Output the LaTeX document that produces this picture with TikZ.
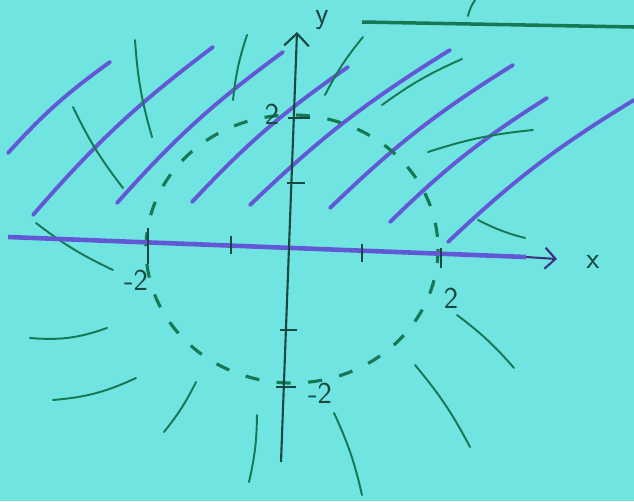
\documentclass[tikz,border=0pt]{standalone}
\usepackage{tikz}
\usetikzlibrary{arrows.meta}

\definecolor{paper}{RGB}{112,228,224}
\definecolor{hatch}{RGB}{98,88,214}
\definecolor{pen}{RGB}{22,120,84}
\definecolor{ink}{RGB}{24,72,64}

\begin{document}
\begin{tikzpicture}[x=0.02cm, y=-0.02cm, font=\LARGE\sffamily,
    hatchline/.style={hatch, line width=2.2pt, line cap=round},
    strokeline/.style={pen, line width=1.1pt, line cap=round},
    tickmark/.style={ink, line width=1pt},
    lbl/.style={ink}]
    % ================= Parameters =================
    \def\W{634}        % Canvas width (pixels)
    \def\H{501}        % Canvas height (pixels)
    \def\Rx{146}       % Circle half-width
    \def\Ry{134}       % Circle half-height

    % Canvas
    \path[use as bounding box] (0,0) rectangle (\W,\H);
    \fill[paper] (0,0) rectangle (\W,\H);

    % Key coordinates
    \coordinate (O) at (292,249);
    \coordinate (X_start) at (8,237);
    \coordinate (X_mid) at (526,257);
    \coordinate (X_end) at (557,259);
    \coordinate (Y_start) at (281,462);
    \coordinate (Y_end) at (297,32);

    % ================= Hatching (upper half) =================
    \foreach \xa/\ya/\xb/\yb in {8/153/110/62, 33/215/213/47, 117/203/283/52,
                       192/202/348/67, 250/205/450/50, 330/208/513/65,
                       390/222/547/98, 448/242/634/100}
        \draw[hatchline] (\xa,\ya) to[bend left=6] (\xb,\yb);

    % ================= Outward strokes =================
    \foreach \xa/\ya/\xb/\yb in {135/40/152/137, 73/107/123/188, 247/35/233/100,
                       363/37/325/95, 462/59/382/105, 533/130/428/152,
                       478/220/525/238, 36/223/113/270, 164/432/196/382,
                       249/482/257/415, 362/495/334/413, 470/447/415/365,
                       514/368/457/315}
        \draw[strokeline] (\xa,\ya) to[bend right=6] (\xb,\yb);
    \draw[strokeline] (30,338) to[bend right=12] (107,328);
    \draw[strokeline] (53,400) to[bend right=10] (136,378);

    % Line at the top
    \draw[pen, line width=2pt] (362,22) -- (634,27);
    \draw[strokeline] (475,0) to[bend right=10] (468,16);

    % ================= Dashed circle =================
    \draw[pen, line width=1.8pt, dash pattern=on 8pt off 10pt] (O) ellipse ({\Rx} and {\Ry});

    % ================= Axes =================
    \draw[hatch, line width=2.6pt] (X_start) -- (X_mid);
    \draw[-{Straight Barb[length=6pt, width=12pt]}, hatch!60!black, line width=1.2pt] (X_mid) -- (X_end);
    \draw[-{Straight Barb[length=7pt, width=14pt]}, ink, line width=1.2pt] (Y_start) -- (Y_end);

    % Ticks on x
    \draw[tickmark] (148,228) -- (148,264);
    \draw[tickmark] (231,236) -- (231,254);
    \draw[tickmark] (362,244) -- (362,262);
    \draw[tickmark] (441,248) -- (441,268);

    % Ticks on y
    \draw[tickmark] (288,118) -- (310,118);
    \draw[tickmark] (287,183) -- (305,183);
    \draw[tickmark] (280,330) -- (297,330);
    \draw[tickmark] (276,387) -- (296,387);

    % ================= Labels =================
    \node[lbl] (ylbl) at (322,20) {y};
    \node[lbl] (xlbl) at (593,262) {x};
    \node[lbl] (ytop) at (272,114) {2};
    \node[lbl] (xleft) at (136,280) {-2};
    \node[lbl] (xright) at (451,298) {2};
    \node[lbl] (ybot) at (320,393) {-2};

\end{tikzpicture}
\end{document}
